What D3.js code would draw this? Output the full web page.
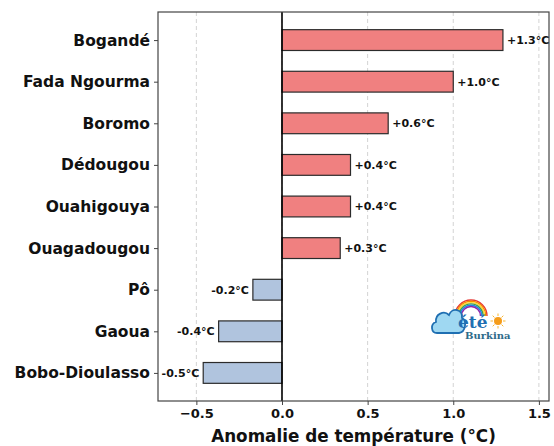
<!DOCTYPE html>
<html>
<head>
<meta charset="utf-8">
<script src="https://cdn.jsdelivr.net/npm/d3@7"></script>
<style>
  body { margin: 0; background: #fff; }
  text { font-family: "DejaVu Sans", sans-serif; font-weight: bold; }
</style>
</head>
<body>
<script>
// stations, top to bottom
var stations = ["Bogandé", "Fada Ngourma", "Boromo", "Dédougou", "Ouahigouya",
                "Ouagadougou", "Pô", "Gaoua", "Bobo-Dioulasso"];
var anomalies = [1.29, 1.0, 0.62, 0.40, 0.40, 0.34, -0.17, -0.37, -0.46];
var valueLabels = ["+1.3°C", "+1.0°C", "+0.6°C", "+0.4°C", "+0.4°C", "+0.3°C",
                   "-0.2°C", "-0.4°C", "-0.5°C"];
var xTicks = [-0.5, 0.0, 0.5, 1.0, 1.5];

var width = 554, height = 446;
var mLeft = 158, mRight = 549, mTop = 12, mBottom = 401;

var svg = d3.select("body").append("svg")
            .attr("width", width)
            .attr("height", height);

var x = d3.scaleLinear().domain([-0.724, 1.559]).range([mLeft, mRight]);
// matplotlib style y: index positions with margins
var y = d3.scaleLinear().domain([-0.675, 8.675]).range([mTop, mBottom]);
var barH = y(0.25) - y(-0.25);

// dashed grid
svg.selectAll("line.grid")
   .data(xTicks)
   .enter()
   .append("line")
   .attr("x1", function (d) { return x(d); })
   .attr("x2", function (d) { return x(d); })
   .attr("y1", mTop)
   .attr("y2", mBottom)
   .attr("stroke", "#d3d3d3")
   .attr("stroke-width", 1)
   .attr("stroke-dasharray", "4,3");

// bars
svg.selectAll("rect.bar")
   .data(anomalies)
   .enter()
   .append("rect")
   .attr("x", function (d) { return x(Math.min(0, d)); })
   .attr("y", function (d, i) { return y(i) - barH / 2; })
   .attr("width", function (d) { return Math.abs(x(d) - x(0)); })
   .attr("height", barH)
   .style("fill", function (d) { return d >= 0 ? "#f08080" : "#b0c4de"; })
   .style("stroke", "#2b2b2b")
   .style("stroke-width", 1.2);

// zero line
svg.append("line")
   .attr("x1", x(0)).attr("x2", x(0))
   .attr("y1", mTop).attr("y2", mBottom)
   .attr("stroke", "#000")
   .attr("stroke-width", 1.6);

// frame
svg.append("rect")
   .attr("x", mLeft).attr("y", mTop)
   .attr("width", mRight - mLeft).attr("height", mBottom - mTop)
   .attr("fill", "none")
   .attr("stroke", "#444")
   .attr("stroke-width", 1.2);

// value labels
svg.selectAll("text.val")
   .data(anomalies)
   .enter()
   .append("text")
   .attr("x", function (d) { return d >= 0 ? x(d) + 4 : x(d) - 4; })
   .attr("y", function (d, i) { return y(i); })
   .attr("dy", "0.35em")
   .attr("text-anchor", function (d) { return d >= 0 ? "start" : "end"; })
   .style("font-size", "11px")
   .attr("fill", "#111")
   .text(function (d, i) { return valueLabels[i]; });

// x axis
var xAxis = d3.axisBottom(x)
              .tickValues(xTicks)
              .tickSize(4)
              .tickPadding(4)
              .tickFormat(d3.format(".1f"));
var gx = svg.append("g")
            .attr("transform", "translate(0," + mBottom + ")")
            .call(xAxis);
gx.select(".domain").remove();
gx.selectAll("line").attr("stroke", "#444");
gx.selectAll("text")
  .style("font-family", "DejaVu Sans")
  .style("font-weight", "bold")
  .style("font-size", "13px")
  .attr("fill", "#111")
  .text(function (d) { return d3.format(".1f")(d).replace("-", "\u2212"); });

// y axis
var yAxis = d3.axisLeft(y)
              .tickValues(d3.range(stations.length))
              .tickSize(4)
              .tickPadding(4)
              .tickFormat(function (d) { return stations[d]; });
var gy = svg.append("g")
            .attr("transform", "translate(" + mLeft + ",0)")
            .call(yAxis);
gy.select(".domain").remove();
gy.selectAll("line").attr("stroke", "#444");
gy.selectAll("text")
  .style("font-family", "DejaVu Sans")
  .style("font-weight", "bold")
  .style("font-size", "15.5px")
  .attr("fill", "#111");

// x label
svg.append("text")
   .attr("x", (mLeft + mRight) / 2)
   .attr("y", 442)
   .attr("text-anchor", "middle")
   .style("font-size", "16.8px")
   .attr("fill", "#111")
   .text("Anomalie de température (°C)");

// little Météo Burkina logo
var logo = svg.append("g").attr("transform", "translate(432,300)");
var rainbow = ["#e53935", "#fb8c00", "#fdd835", "#43a047", "#1e88e5", "#8e24aa"];
logo.selectAll("path.rb")
    .data(rainbow)
    .enter()
    .append("path")
    .attr("d", function (d, i) {
      var r = 16 - i * 1.3;
      return "M" + (39 - r) + ",16 A" + r + "," + r + " 0 0,1 " + (39 + r) + ",16";
    })
    .attr("fill", "none")
    .attr("stroke", function (d) { return d; })
    .attr("stroke-width", 1.4);
logo.append("path")
    .attr("d", "M5,33 C-1,33 -2,24 4,22 C3,14 12,10 17,15 C20,7 31,9 30,18 C35,20 34,32 27,33 Z")
    .attr("fill", "#9fd8f2")
    .attr("stroke", "#1f6fb2")
    .attr("stroke-width", 1.8);
logo.append("text")
    .attr("x", 26).attr("y", 28)
    .style("font-family", "DejaVu Serif")
    .style("font-size", "17px")
    .attr("fill", "#1f6fb2")
    .text("été");
logo.append("circle")
    .attr("cx", 66).attr("cy", 21).attr("r", 4)
    .attr("fill", "#f59c1a");
logo.selectAll("line.ray")
    .data(d3.range(8))
    .enter()
    .append("line")
    .attr("x1", function (d) { return 66 + 5 * Math.cos(d * Math.PI / 4); })
    .attr("y1", function (d) { return 21 + 5 * Math.sin(d * Math.PI / 4); })
    .attr("x2", function (d) { return 66 + 7.5 * Math.cos(d * Math.PI / 4); })
    .attr("y2", function (d) { return 21 + 7.5 * Math.sin(d * Math.PI / 4); })
    .attr("stroke", "#f7b733")
    .attr("stroke-width", 1);
logo.append("text")
    .attr("x", 33).attr("y", 39)
    .style("font-family", "DejaVu Serif")
    .style("font-size", "10px")
    .attr("fill", "#2e6b8a")
    .text("Burkina");
</script>
</body>
</html>
